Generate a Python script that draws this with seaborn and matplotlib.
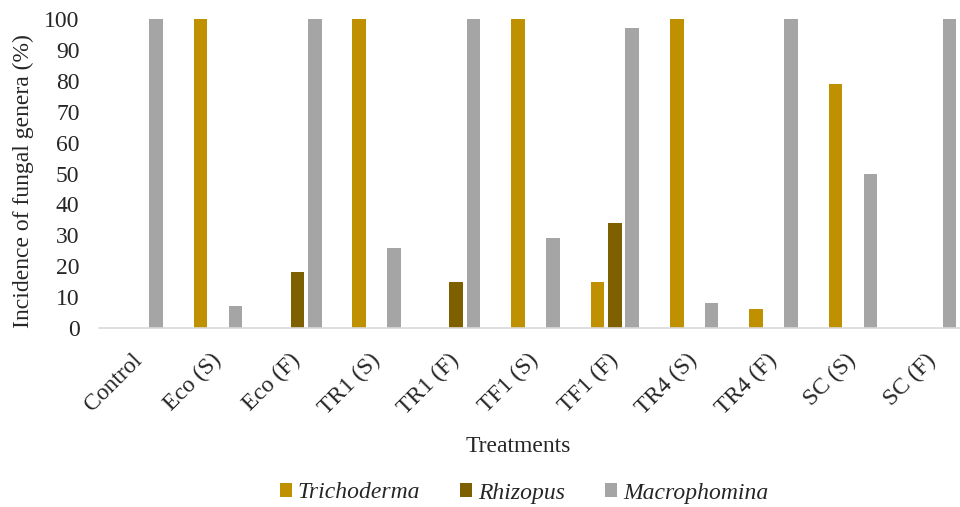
import matplotlib
matplotlib.use("Agg")
import matplotlib.pyplot as plt
import seaborn as sns
import pandas as pd

treatments = ["Control", "Eco (S)", "Eco (F)", "TR1 (S)", "TR1 (F)", "TF1 (S)",
              "TF1 (F)", "TR4 (S)", "TR4 (F)", "SC (S)", "SC (F)"]
genera = ["Trichoderma", "Rhizopus", "Macrophomina"]
trichoderma = [0, 100, 0, 100, 0, 100, 15, 100, 6, 79, 0]
rhizopus = [0, 0, 18, 0, 15, 0, 34, 0, 0, 0, 0]
macrophomina = [100, 7, 100, 26, 100, 29, 97, 8, 100, 50, 100]
yticks = [0, 10, 20, 30, 40, 50, 60, 70, 80, 90, 100]
colors = ["#BF9000", "#7F6000", "#A5A5A5"]

rows = []
for g, vals in zip(genera, [trichoderma, rhizopus, macrophomina]):
    for t, v in zip(treatments, vals):
        rows.append({"Treatment": t, "Genus": g, "Value": v})
df = pd.DataFrame(rows)

sns.set_theme(style="white")
plt.rcParams["font.family"] = ["Liberation Serif", "DejaVu Serif"]
FS = 17

fig = plt.figure(figsize=(9.6, 5.07), dpi=100)
W, H = 960, 507
left, right, top, bottom = 99, 960, 19, 328
ax = fig.add_axes([left / W, 1 - bottom / H, (right - left) / W, (bottom - top) / H])

sns.barplot(data=df, x="Treatment", y="Value", hue="Genus", order=treatments,
            hue_order=genera, palette=colors, width=0.66, gap=0.22,
            linewidth=0, saturation=1, ax=ax)

ax.set_ylim(0, 100)
ax.set_xlim(-0.5, 10.35)
ax.set_yticks(yticks)
ax.set_yticklabels([str(v) for v in yticks], fontsize=FS)
ax.tick_params(axis="both", length=0)
ax.tick_params(axis="y", pad=14)
ax.set_xticks(range(len(treatments)))
ax.set_xticklabels(treatments, rotation=45, ha="right", va="center",
                   rotation_mode="anchor", fontsize=FS)
ax.tick_params(axis="x", pad=21)
for s in ["top", "right", "left"]:
    ax.spines[s].set_visible(False)
ax.spines["bottom"].set_color("#D9D9D9")
ax.spines["bottom"].set_linewidth(1.2)

ax.set_xlabel("")
ax.set_ylabel("")
fig.text(23 / W, 1 - 181 / H, "Incidence of fungal genera (%)", rotation=90,
         ha="center", va="center", fontsize=FS)
fig.text(518 / W, 1 - 447 / H, "Treatments", ha="center", va="center", fontsize=FS)

handles, labels = ax.get_legend_handles_labels()
ax.get_legend().remove()
fig.legend(handles, labels, loc="center", bbox_to_anchor=(524 / W, 1 - 493 / H),
           ncol=3, frameon=False, handlelength=0.5, handleheight=0.5,
           handletextpad=0.25, columnspacing=1.7,
           prop={"family": "Liberation Serif", "style": "italic", "size": FS})

fig.savefig("out.png", dpi=100)
